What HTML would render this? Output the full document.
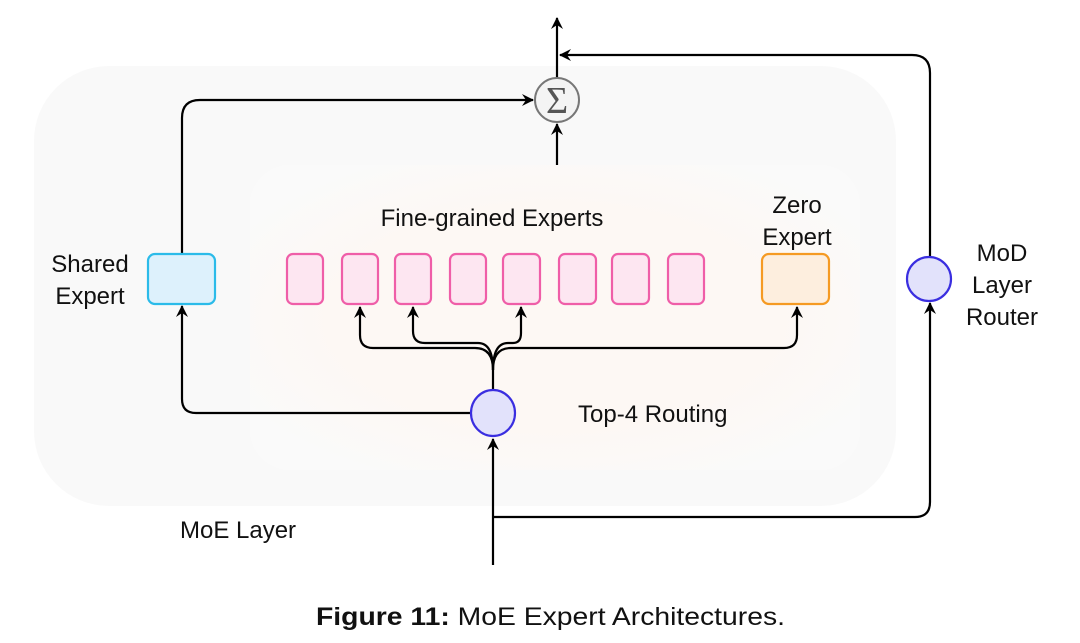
<!DOCTYPE html>
<html><head><meta charset="utf-8"><style>
html,body{margin:0;padding:0;background:#fff;}
svg{display:block;}
text{font-family:"Liberation Sans",sans-serif;fill:#111;}
</style></head><body>
<svg width="1080" height="643" viewBox="0 0 1080 643" xmlns="http://www.w3.org/2000/svg">
<defs>
<marker id="a" markerWidth="14" markerHeight="14" refX="11" refY="6" orient="auto" markerUnits="userSpaceOnUse">
<path d="M0,0 L12,6 L0,12 L4,6 Z" fill="#000"/>
</marker>
<radialGradient id="pg" cx="0.5" cy="0.5" r="0.6">
<stop offset="0.6" stop-color="#fdf8f4"/><stop offset="1" stop-color="#fafafa"/>
</radialGradient>
</defs>
<rect x="34" y="66" width="862" height="440" rx="75" fill="#f9f9f9"/>
<rect x="250" y="165" width="610" height="305" rx="40" fill="url(#pg)"/>

<g fill="none" stroke="#000" stroke-width="2.2">
<path d="M182 253 V118 Q182 100 200 100 H533" marker-end="url(#a)"/>
<path d="M557 165 V124" marker-end="url(#a)"/>
<path d="M557 78 V18" marker-end="url(#a)"/>
<path d="M930 257 V73 Q930 55 912 55 H560" marker-end="url(#a)"/>
<path d="M493 565 V439" marker-end="url(#a)"/>
<path d="M493 517 H915 Q930 517 930 502 V303" marker-end="url(#a)"/>
<path d="M471 413 H196 Q182 413 182 399 V306" marker-end="url(#a)"/>
<path d="M493 390 V370 Q493 348 475 348 H373 Q360 348 360 335 V307" marker-end="url(#a)"/>
<path d="M493 370 Q493 343 478 343 H425 Q413 343 413 331 V307" marker-end="url(#a)"/>
<path d="M493 370 Q493 343 508 343 H513 Q521 343 521 333 V307" marker-end="url(#a)"/>
<path d="M493 370 Q493 348 511 348 H784 Q797 348 797 335 V307" marker-end="url(#a)"/>
</g>

<circle cx="557" cy="100" r="22" fill="#f4f4f4" stroke="#777" stroke-width="2"/>
<text x="557" y="113" font-size="38" text-anchor="middle" fill="#555" style="font-family:'Liberation Serif',serif;fill:#555">Σ</text>

<rect x="148" y="254" width="67" height="50" rx="7" fill="#ddf1fc" stroke="#2bbbe9" stroke-width="2.2"/>
<g fill="#fde6f1" stroke="#ef5ea8" stroke-width="2.2">
<rect x="287" y="254" width="36" height="50" rx="6"/>
<rect x="342" y="254" width="36" height="50" rx="6"/>
<rect x="395" y="254" width="36" height="50" rx="6"/>
<rect x="450" y="254" width="36" height="50" rx="6"/>
<rect x="503" y="254" width="37" height="50" rx="6"/>
<rect x="559" y="254" width="37" height="50" rx="6"/>
<rect x="612" y="254" width="37" height="50" rx="6"/>
<rect x="668" y="254" width="36" height="50" rx="6"/>
</g>
<rect x="762" y="254" width="67" height="50" rx="7" fill="#fdeede" stroke="#f59a23" stroke-width="2.2"/>

<ellipse cx="493" cy="413" rx="22" ry="23" fill="#e2e2fb" stroke="#3a2ee0" stroke-width="2.2"/>
<ellipse cx="929" cy="279" rx="22" ry="22" fill="#e2e2fb" stroke="#3a2ee0" stroke-width="2.2"/>

<g font-size="24">
<text x="90" y="272" text-anchor="middle">Shared</text>
<text x="90" y="304" text-anchor="middle">Expert</text>
<text x="492" y="226" text-anchor="middle">Fine-grained Experts</text>
<text x="797" y="213" text-anchor="middle">Zero</text>
<text x="797" y="245" text-anchor="middle">Expert</text>
<text x="1002" y="261" text-anchor="middle">MoD</text>
<text x="1002" y="293" text-anchor="middle">Layer</text>
<text x="1002" y="325" text-anchor="middle">Router</text>
<text x="578" y="422">Top-4 Routing</text>
<text x="180" y="538">MoE Layer</text>
</g>
<text x="316" y="625" font-size="25" textLength="469" lengthAdjust="spacingAndGlyphs"><tspan font-weight="bold">Figure 11:</tspan> MoE Expert Architectures.</text>
</svg>
</body></html>
